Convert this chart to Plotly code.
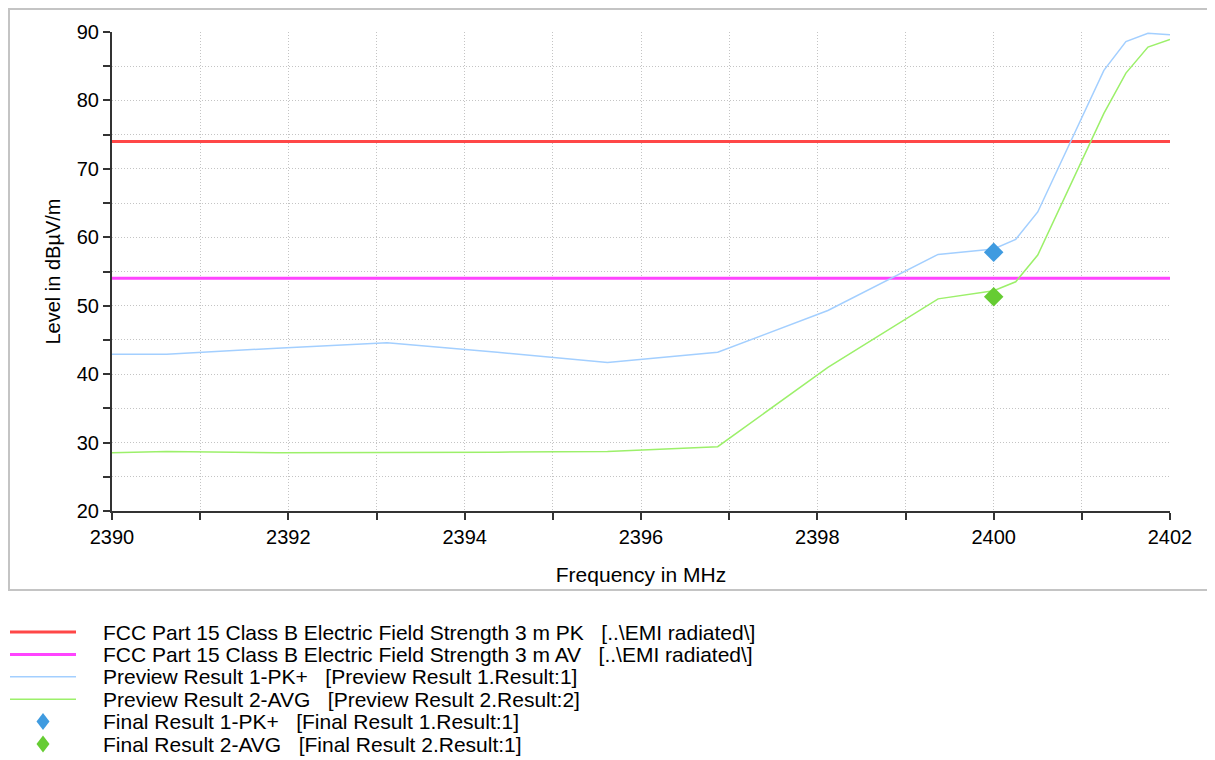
import plotly.graph_objects as go

freq = [2390.0, 2390.62, 2391.87, 2393.12, 2394.37, 2395.62, 2396.87, 2398.12,
        2399.37, 2400.0, 2400.25, 2400.5, 2400.75, 2401.0, 2401.25, 2401.5, 2401.75, 2402.0]
pk_preview = [42.9, 42.9, 43.8, 44.6, 43.2, 41.7, 43.2, 49.3,
              57.5, 58.3, 59.7, 63.7, 70.6, 77.5, 84.4, 88.6, 89.8, 89.6]
avg_preview = [28.5, 28.7, 28.5, 28.5, 28.6, 28.7, 29.4, 41.0,
               51.0, 52.2, 53.5, 57.4, 64.2, 71.2, 78.1, 84.0, 87.8, 88.9]
limit_x = [2390.0, 2402.0]
limit_pk = [74.0, 74.0]
limit_av = [54.0, 54.0]
final_x = [2400.0]
final_pk = [57.8]
final_avg = [51.3]

sp = "\u00a0\u00a0\u00a0"
names = [
    "FCC Part 15 Class B Electric Field Strength 3 m PK" + sp + "[..\\EMI radiated\\]",
    "FCC Part 15 Class B Electric Field Strength 3 m AV" + sp + "[..\\EMI radiated\\]",
    "Preview Result 1-PK+" + sp + "[Preview Result 1.Result:1]",
    "Preview Result 2-AVG" + sp + "[Preview Result 2.Result:2]",
    "Final Result 1-PK+" + sp + "[Final Result 1.Result:1]",
    "Final Result 2-AVG" + sp + "[Final Result 2.Result:1]",
]
colors = ["#ff4747", "#ff44ff", "#a3cfff", "#9cf06a", "#3f9be0", "#66cc33"]
kinds = ["line", "line", "line", "line", "diamond", "diamond"]
widths = [3, 3, 1.5, 1.5, 0, 0]

fig = go.Figure()
fig.add_trace(go.Scatter(x=limit_x, y=limit_pk, mode="lines", name=names[0],
                         line=dict(color=colors[0], width=widths[0])))
fig.add_trace(go.Scatter(x=limit_x, y=limit_av, mode="lines", name=names[1],
                         line=dict(color=colors[1], width=widths[1])))
fig.add_trace(go.Scatter(x=freq, y=pk_preview, mode="lines", name=names[2],
                         line=dict(color=colors[2], width=widths[2])))
fig.add_trace(go.Scatter(x=freq, y=avg_preview, mode="lines", name=names[3],
                         line=dict(color=colors[3], width=widths[3])))
fig.add_trace(go.Scatter(x=final_x, y=final_pk, mode="markers", name=names[4],
                         marker=dict(symbol="diamond", color=colors[4], size=15)))
fig.add_trace(go.Scatter(x=final_x, y=final_avg, mode="markers", name=names[5],
                         marker=dict(symbol="diamond", color=colors[5], size=15)))

# Figure is placed at an (8, 8) page offset by the browser's body margin.
W, H = 1207, 752
ML, MT, MR, MB = 104, 24, 45, 249
PW, PH = W - ML - MR, H - MT - MB


def px(xs):  # figure pixel -> paper x
    return (xs - ML) / PW


def py(ys):  # figure pixel -> paper y
    return (H - MB - ys) / PH


shapes = [dict(type="rect", xref="paper", yref="paper",
               x0=px(1), x1=px(1204), y0=py(582), y1=py(1),
               line=dict(color="#c4c4c4", width=2), fillcolor="rgba(0,0,0,0)", layer="below")]
annotations = []
row0, rowgap = 624, 22.4
for i, (nm, c, k, w) in enumerate(zip(names, colors, kinds, widths)):
    yc = row0 + i * rowgap
    if k == "line":
        shapes.append(dict(type="line", xref="paper", yref="paper",
                           x0=px(2), x1=px(68), y0=py(yc), y1=py(yc),
                           line=dict(color=c, width=w)))
    else:
        cx, hw, hh = px(35), 6.5 / PW, 8.5 / PH
        cy = py(yc)
        shapes.append(dict(type="path", xref="paper", yref="paper",
                           path=f"M {cx},{cy + hh} L {cx + hw},{cy} L {cx},{cy - hh} L {cx - hw},{cy} Z",
                           line=dict(color=c, width=0), fillcolor=c))
    annotations.append(dict(text=nm, xref="paper", yref="paper", x=px(93), y=py(yc),
                            xanchor="left", yanchor="middle", showarrow=False,
                            font=dict(size=21, color="black")))

font_family = "Liberation Sans, Arial, Helvetica, sans-serif"
gdash = "1px,2px"
grid = dict(showgrid=True, gridcolor="#c4c4c4", griddash=gdash, gridwidth=1)

fig.update_layout(
    width=W, height=H,
    margin=dict(l=ML, r=MR, t=MT, b=MB, autoexpand=False),
    paper_bgcolor="white", plot_bgcolor="white",
    font=dict(family=font_family, size=20, color="black"),
    hovermode=False,
    showlegend=False,
    xaxis=dict(range=[2390, 2402], dtick=2, tick0=2390, ticks="outside", ticklen=7,
               tickwidth=1.5, tickcolor="#333", showline=True, linecolor="#333", linewidth=2,
               zeroline=False, title=dict(text="Frequency in MHz", font=dict(size=21), standoff=20),
               minor=dict(dtick=1, ticks="outside", ticklen=7, tickwidth=1.5, tickcolor="#333",
                          showgrid=True, gridcolor="#c4c4c4", griddash=gdash),
               **grid),
    yaxis=dict(range=[20, 90], dtick=10, tick0=20, ticks="outside", ticklen=7,
               tickwidth=1.5, tickcolor="#333", showline=True, linecolor="#333", linewidth=2,
               zeroline=False, title=dict(text="Level in dBµV/m", font=dict(size=20), standoff=11),
               minor=dict(dtick=5, ticks="outside", ticklen=7, tickwidth=1.5, tickcolor="#333",
                          showgrid=True, gridcolor="#c4c4c4", griddash=gdash),
               **grid),
    shapes=shapes,
    annotations=annotations,
)

fig.write_html("out.html")
